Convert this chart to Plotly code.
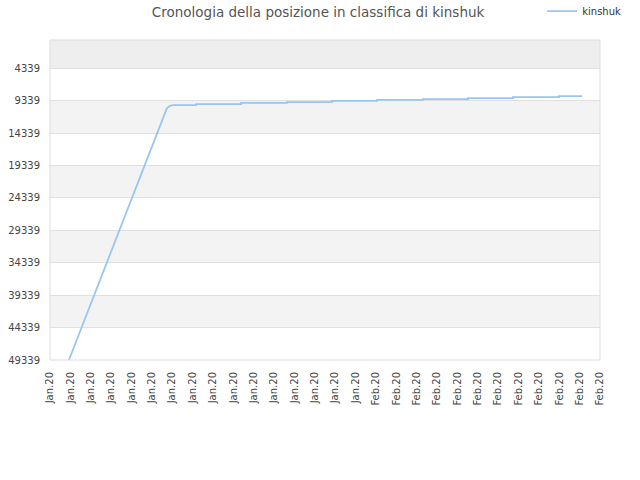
import plotly.graph_objects as go

# ---- data ----
tick_labels = ["Jan.20"] * 16 + ["Feb.20"] * 12
y_ticks = [4339, 9339, 14339, 19339, 24339, 29339, 34339, 39339, 44339, 49339]

# rising part (x in tick-index units, value = rank)
rise_x = [0.93, 5.74, 5.89, 6.04]
rise_v = [49339, 10506, 10150, 10044]

# step part: positions where the rank changes and the new rank
step_x = [7.17, 9.38, 11.63, 13.84, 16.05, 18.31, 20.52, 22.73, 24.99]
step_v = [9890, 9690, 9583, 9381, 9227, 9120, 8967, 8811, 8659]
end_x = 26.12

# build line
xs = list(rise_x)
vs = list(rise_v)
prev = rise_v[-1]
for sx, sv in zip(step_x, step_v):
    xs += [sx, sx]
    vs += [prev, sv]
    prev = sv
xs.append(end_x)
vs.append(prev)

fig = go.Figure()
fig.add_trace(go.Scatter(
    x=xs, y=vs, mode="lines", name="kinshuk",
    line=dict(color="#99c6f0", width=1.8),
))

# alternating background bands
shapes = []
bounds = [0] + y_ticks
for i in range(len(bounds) - 1):
    if i == 0:
        col = "#eeeeee"
    elif i % 2 == 0:
        col = "#f3f3f3"
    else:
        col = None
    if col:
        shapes.append(dict(type="rect", xref="paper", yref="y", x0=0, x1=1,
                           y0=bounds[i], y1=bounds[i + 1], fillcolor=col,
                           line=dict(width=0), layer="below"))
shapes.append(dict(type="rect", xref="paper", yref="paper", x0=0, x1=1, y0=0, y1=1,
                   line=dict(color="#dddddd", width=1), layer="above"))

fig.update_layout(
    width=640, height=480,
    margin=dict(l=50, r=40, t=40, b=120, autoexpand=False),
    paper_bgcolor="white", plot_bgcolor="white",
    font=dict(family="DejaVu Sans", size=10, color="#444444"),
    title=dict(text="Cronologia della posizione in classifica di kinshuk",
               x=0.497, xanchor="center", y=0.975, yanchor="middle",
               font=dict(size=13.5, color="#555555")),
    showlegend=True,
    legend=dict(x=0.895, xanchor="left", y=1.09, yanchor="middle",
                bgcolor="rgba(0,0,0,0)", font=dict(size=10, color="#333333"),
                itemwidth=30),
    shapes=shapes,
    xaxis=dict(range=[0, 27], tickmode="array", tickvals=list(range(28)),
               ticktext=tick_labels, tickangle=-90, showgrid=False, automargin=False,
               ticklabelstandoff=9,
               zeroline=False, showline=False, ticks="", tickfont=dict(size=10, color="#444444")),
    yaxis=dict(range=[49339, 0], tickmode="array", tickvals=y_ticks, automargin=False,
               ticklabelstandoff=9,
               ticktext=[str(v) for v in y_ticks], showgrid=True,
               gridcolor="#e0e0e0", gridwidth=1, zeroline=False, ticks="",
               tickfont=dict(size=10, color="#444444")),
)

fig.write_html("out.html", config={"displayModeBar": False},
               post_script="document.body.style.margin='0';")
